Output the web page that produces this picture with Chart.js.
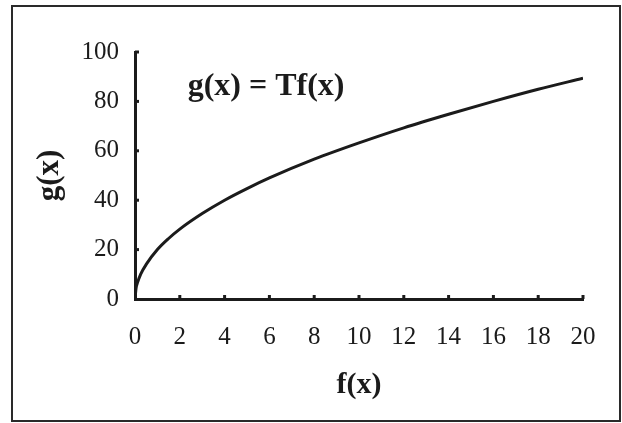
<!DOCTYPE html>
<html>
<head>
<meta charset="utf-8">
<script src="https://cdn.jsdelivr.net/npm/chart.js@4/dist/chart.umd.min.js"></script>
<style>
  html, body { margin: 0; padding: 0; background: #fff; }
  #wrap { width: 622px; height: 423px; position: relative; }
</style>
</head>
<body>
<div id="wrap"><canvas id="mainChart" width="622" height="423"></canvas></div>
<script>
// values
const fValues = [0, 0.05, 0.1, 0.25, 0.5, 1, 1.5, 2, 3, 4, 5, 6, 8, 10, 12, 14, 16, 18, 20];
const gValues = [0, 4.5, 6.3, 10, 14, 20, 24.5, 28.3, 34.6, 40, 44.7, 49, 56.6, 63.2, 69.3, 74.8, 80, 84.9, 89.4];
const xTicks = [0, 2, 4, 6, 8, 10, 12, 14, 16, 18, 20];
const yTicks = [0, 20, 40, 60, 80, 100];
const xTitle = 'f(x)';
const yTitle = 'g(x)';
const noteText = 'g(x) = Tf(x)';

const ink   = '#1b1b1b';
const serif = '"Liberation Serif", "Times New Roman", serif';

// frame, small inward ticks and the formula label
const extras = {
  id: 'extras',
  afterDraw(chart) {
    const { ctx, scales: { x, y } } = chart;
    ctx.save();
    ctx.strokeStyle = '#2a2a2a';
    ctx.lineWidth = 2;
    ctx.strokeRect(12, 6, 608, 415);

    ctx.strokeStyle = ink;
    ctx.lineWidth = 3;
    const x0 = x.getPixelForValue(0), y0 = y.getPixelForValue(0);
    xTicks.slice(1).forEach(v => {
      const px = x.getPixelForValue(v);
      ctx.beginPath(); ctx.moveTo(px, y0); ctx.lineTo(px, y0 - 4); ctx.stroke();
    });
    yTicks.slice(1).forEach(v => {
      const py = y.getPixelForValue(v);
      ctx.beginPath(); ctx.moveTo(x0, py); ctx.lineTo(x0 + 4, py); ctx.stroke();
    });

    ctx.fillStyle = ink;
    ctx.font = 'bold 32px ' + serif;
    ctx.textAlign = 'left';
    ctx.textBaseline = 'middle';
    ctx.fillText(noteText, x.getPixelForValue(2.35), y.getPixelForValue(86));
    ctx.restore();
  }
};

new Chart(document.getElementById('mainChart'), {
  type: 'line',
  data: {
    datasets: [{
      data: fValues.map((f, i) => ({ x: f, y: gValues[i] })),
      borderColor: ink,
      borderWidth: 3,
      pointRadius: 0,
      fill: false,
      cubicInterpolationMode: 'monotone',
    }],
  },
  options: {
    responsive: false,
    animation: false,
    layout: { padding: { left: 0, top: 52, right: 39, bottom: 0 } },
    plugins: { legend: { display: false }, tooltip: { enabled: false } },
    scales: {
      x: {
        type: 'linear',
        min: 0, max: 20,
        afterFit: s => { s.height = 124; },
        afterBuildTicks: s => { s.ticks = xTicks.map(v => ({ value: v })); },
        border: { color: ink, width: 3 },
        grid: { display: false, drawTicks: false },
        ticks: { color: ink, padding: 23, maxRotation: 0, font: { family: serif, size: 25 } },
        title: {
          display: true, text: xTitle, color: ink,
          font: { family: serif, size: 30, weight: 'bold' },
          padding: { top: 0, bottom: 20 },
        },
      },
      y: {
        min: 0, max: 100,
        afterFit: s => { s.width = 135; },
        afterBuildTicks: s => { s.ticks = yTicks.map(v => ({ value: v })); },
        border: { color: ink, width: 3 },
        grid: { display: false, drawTicks: false },
        ticks: { color: ink, padding: 16, font: { family: serif, size: 25 } },
        title: {
          display: true, text: yTitle, color: ink,
          font: { family: serif, size: 31, weight: 'bold' },
          padding: { top: 31, bottom: 0 },
        },
      },
    },
  },
  plugins: [extras],
});
</script>
</body>
</html>
